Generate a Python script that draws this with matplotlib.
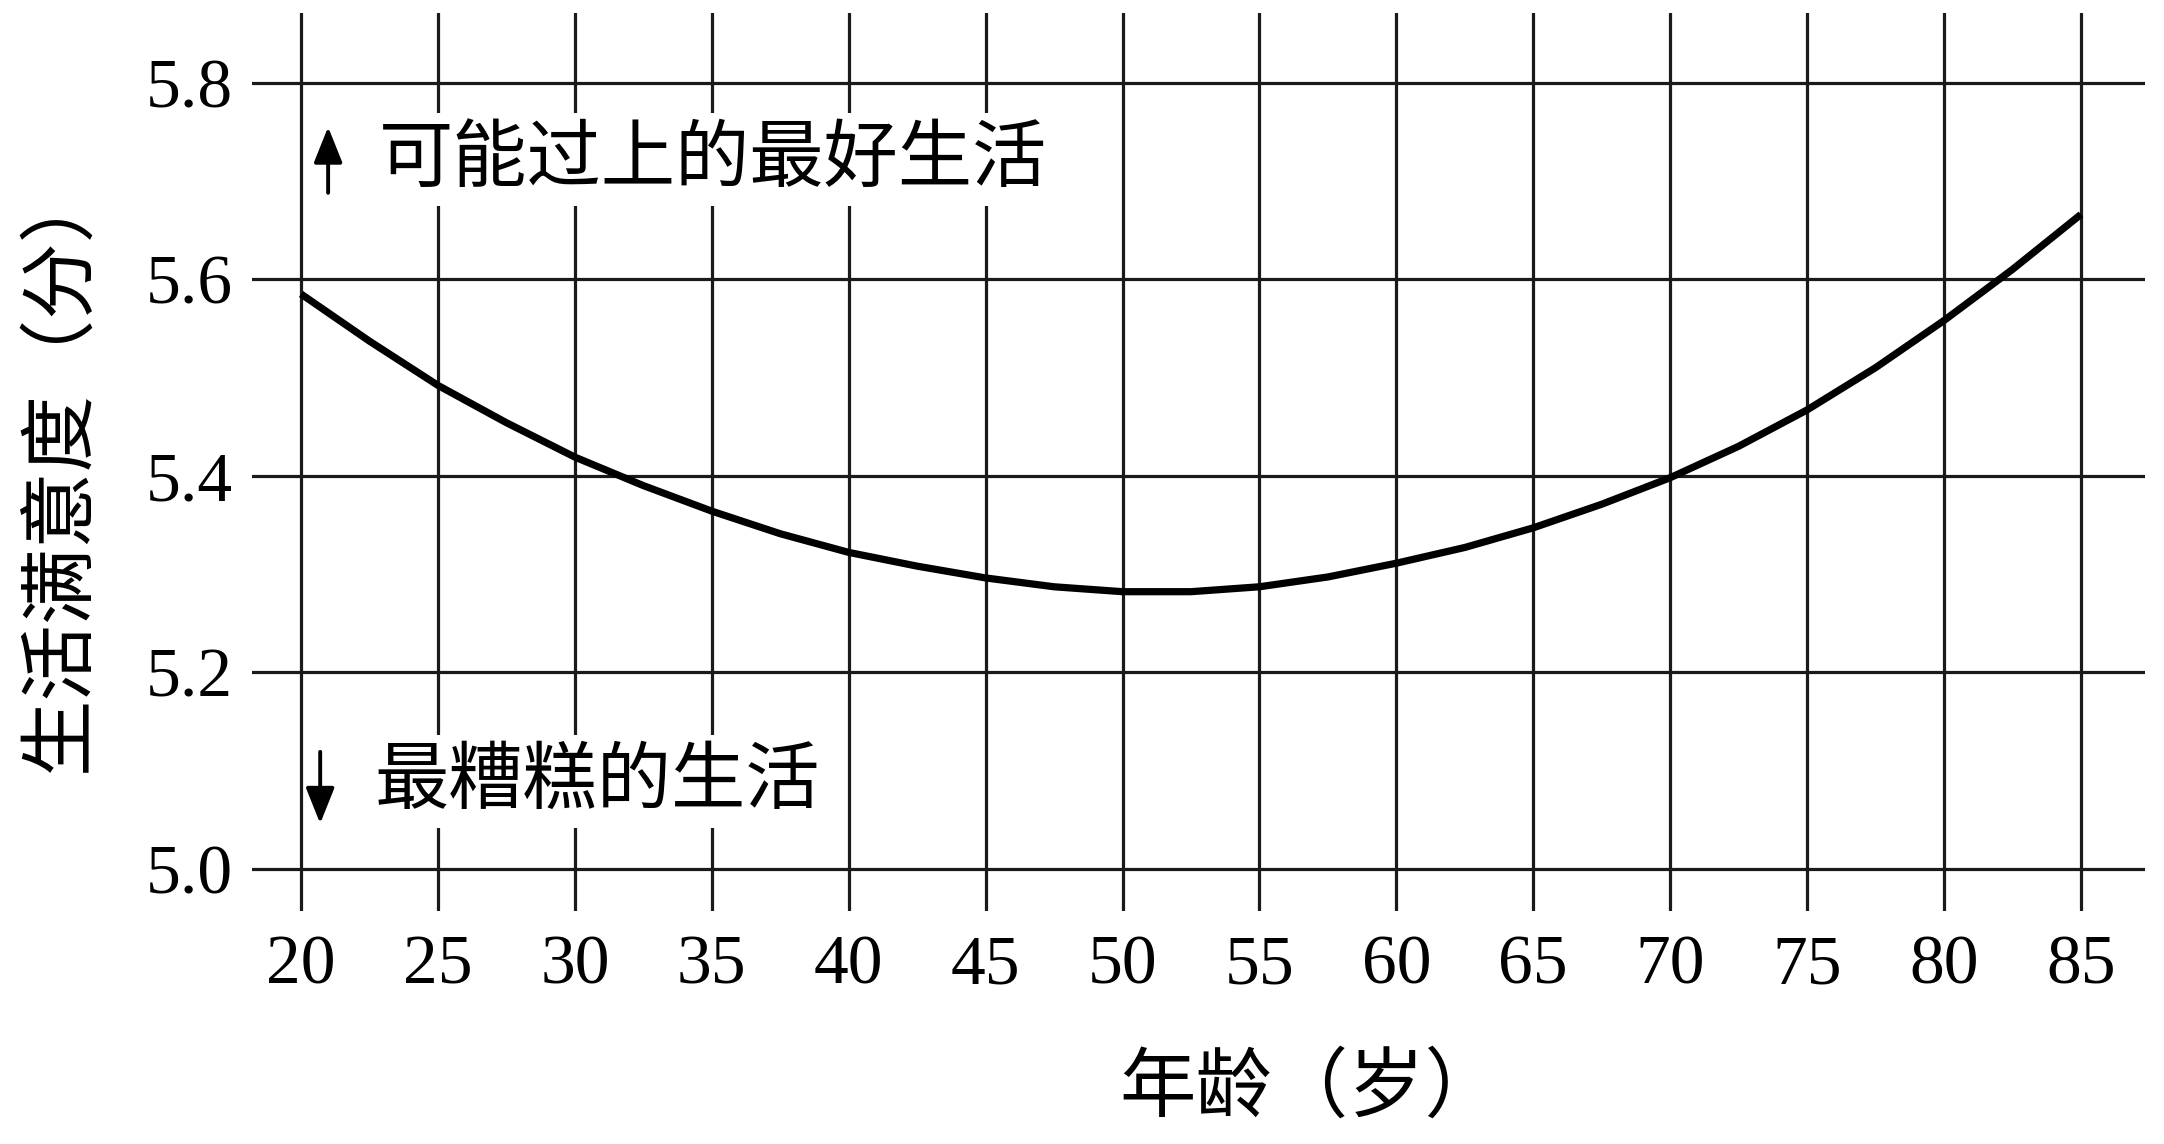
import matplotlib
matplotlib.use("Agg")
import matplotlib.pyplot as plt

# ---- data ----
ages = [20, 22.5, 25, 27.5, 30, 32.5, 35, 37.5, 40, 42.5, 45, 47.5, 50, 52.5,
        55, 57.5, 60, 62.5, 65, 67.5, 70, 72.5, 75, 77.5, 80, 82.5, 85]
satisfaction = [5.585, 5.537, 5.492, 5.454, 5.419, 5.390, 5.364, 5.341, 5.322,
                5.308, 5.296, 5.287, 5.282, 5.282, 5.287, 5.297, 5.311, 5.327,
                5.347, 5.371, 5.398, 5.430, 5.467, 5.510, 5.558, 5.610, 5.666]
x_ticks = [20, 25, 30, 35, 40, 45, 50, 55, 60, 65, 70, 75, 80, 85]
y_ticks = [5.0, 5.2, 5.4, 5.6, 5.8]
y_tick_labels = ["5.0", "5.2", "5.4", "5.6", "5.8"]
x_label = "年龄（岁）"
y_label = "生活满意度（分）"
top_note = "可能过上的最好生活"
bottom_note = "最糟糕的生活"

CJK = ["Noto Sans CJK SC", "DejaVu Sans"]
SERIF = ["Liberation Serif", "DejaVu Serif"]

W, H = 2164, 1144
fig = plt.figure(figsize=(W / 100, H / 100), dpi=100)
ax = fig.add_axes([252 / W, 1 - 911 / H, (2145 - 252) / W, (911 - 13) / H])

ax.plot(ages, satisfaction, color="black", lw=5.2, solid_joinstyle="round",
        solid_capstyle="butt", zorder=4)

ax.set_xlim(18.21, 87.34)
ax.set_ylim(4.957, 5.871)
ax.set_xticks(x_ticks)
ax.set_xticklabels([str(v) for v in x_ticks])
ax.set_yticks(y_ticks)
ax.set_yticklabels(y_tick_labels)
for lab in ax.get_xticklabels() + ax.get_yticklabels():
    lab.set_fontfamily(SERIF)
    lab.set_fontsize(50)
    lab.set_color("black")
ax.tick_params(axis="both", length=0)
ax.tick_params(axis="y", pad=14)
ax.tick_params(axis="x", pad=17)
for s in ax.spines.values():
    s.set_visible(False)
ax.grid(True, color="#1a1a1a", lw=2.3)

# annotations
ax.text(22.85, 5.7216, top_note, family=CJK, fontsize=53.5, va="center", ha="left",
        color="black", zorder=3,
        bbox=dict(facecolor="white", edgecolor="none", pad=6))
ax.text(22.67, 5.0886, bottom_note, family=CJK, fontsize=53.5, va="center", ha="left",
        color="black", zorder=3,
        bbox=dict(facecolor="white", edgecolor="none", pad=6))
arrow_style = "-|>,head_length=0.55,head_width=0.22"
ax.annotate("", xy=(20.99, 5.755), xytext=(20.99, 5.688),
            arrowprops=dict(arrowstyle=arrow_style, mutation_scale=40,
                            lw=2.8, color="black", shrinkA=0, shrinkB=0),
            zorder=5)
ax.annotate("", xy=(20.7, 5.046), xytext=(20.7, 5.119),
            arrowprops=dict(arrowstyle=arrow_style, mutation_scale=40,
                            lw=2.8, color="black", shrinkA=0, shrinkB=0),
            zorder=5)

fig.text(1310 / W, 1 - 1089 / H, x_label, family=CJK, fontsize=55,
         ha="center", va="center", color="black")
fig.text(60 / W, 1 - 467 / H, y_label, family=CJK, fontsize=55,
         ha="center", va="center", rotation=90, color="black")

fig.savefig("out.png", dpi=100, facecolor="white")
